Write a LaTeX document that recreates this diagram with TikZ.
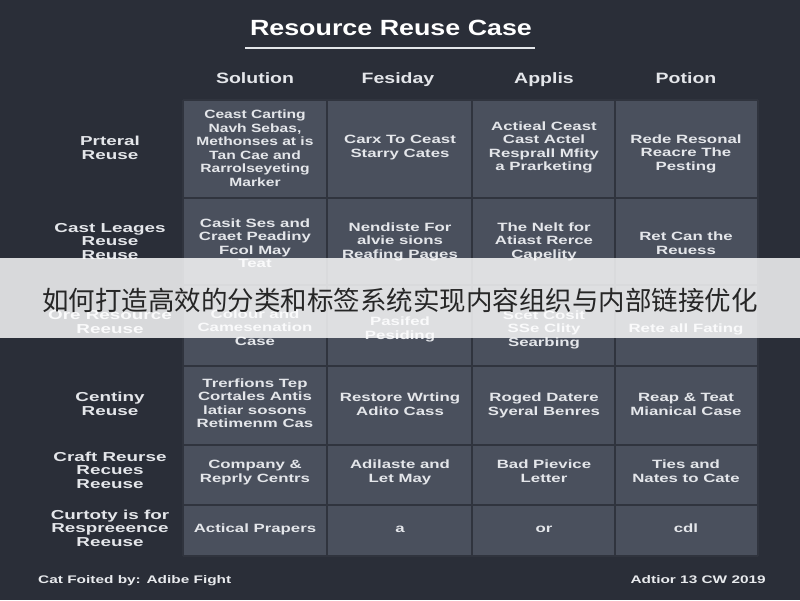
\documentclass[tikz,border=0pt]{standalone}
\usepackage{fontspec}
\setmainfont{Liberation Sans}
\newfontfamily\cjk{Noto Sans CJK SC}
\usetikzlibrary{positioning}
\definecolor{bgdark}{HTML}{2A2E38}
\definecolor{cellgray}{HTML}{4A505D}
\definecolor{gridline}{HTML}{30343E}
\definecolor{txtlight}{HTML}{E4E6EA}
\newcommand\wide[2]{\scalebox{#1}[1]{\begin{tabular}{@{}c@{}}#2\end{tabular}}}
\tikzset{
  celltext/.style={font=\bfseries\fontsize{12}{13.5}\selectfont, text=txtlight, inner sep=0pt},
  rowlabel/.style={font=\bfseries\fontsize{13}{13.5}\selectfont, text=txtlight, inner sep=0pt},
  colhead/.style={font=\bfseries\fontsize{15}{16}\selectfont, text=txtlight, inner sep=0pt},
  foot/.style={font=\bfseries\fontsize{11}{12}\selectfont, text=txtlight!85, inner sep=0pt}
}
\begin{document}
\begin{tikzpicture}[x=1pt,y=-1pt]
\useasboundingbox (0,0) rectangle (800,600);
\fill[bgdark] (0,0) rectangle (800,600);
% title
\node[font=\bfseries\fontsize{22}{24}\selectfont, text=white] (title) at (391,31) {\wide{1.22}{Resource Reuse Case}};
\draw[txtlight, line width=1.5pt] (245,48) -- (535,48);
% column headers
\node[colhead] (h1) at (255,80) {\wide{1.3}{Solution}};
\node[colhead] (h2) at (398,80) {\wide{1.3}{Fesiday}};
\node[colhead] (h3) at (544,80) {\wide{1.3}{Applis}};
\node[colhead] (h4) at (686,80) {\wide{1.3}{Potion}};
% cells
\fill[cellgray] (183,100) rectangle (758,556);
\foreach \x in {183,327,472,615,758}
  \draw[gridline, line width=2.5pt] (\x,100) -- (\x,556);
\foreach \y in {100,198,285,366,445,505,556}
  \draw[gridline, line width=2.5pt] (183,\y) -- (758,\y);
% row labels
\node[rowlabel] (r1) at (110,150) {\wide{1.45}{Prteral\\Reuse}};
\node[rowlabel] (r2) at (110,243) {\wide{1.45}{Cast Leages\\Reuse\\Reuse}};
\node[rowlabel] (r3) at (110,324) {\wide{1.45}{Ore Resource\\Reeuse}};
\node[rowlabel] (r4) at (110,406) {\wide{1.45}{Centiny\\Reuse}};
\node[rowlabel] (r5) at (110,472) {\wide{1.45}{Craft Reurse\\Recues\\Reeuse}};
\node[rowlabel] (r6) at (110,530) {\wide{1.45}{Curtoty is for\\Respreeence\\Reeuse}};
% row 1
\node[celltext] (c11) at (255,150) {\wide{1.3}{Ceast Carting\\Navh Sebas,\\Methonses at is\\Tan Cae and\\Rarrolseyeting\\Marker}};
\node[celltext] (c12) at (400,148) {\wide{1.4}{Carx To Ceast\\Starry Cates}};
\node[celltext] (c13) at (544,148) {\wide{1.4}{Actieal Ceast\\Cast Actel\\Resprall Mfity\\a Prarketing}};
\node[celltext] (c14) at (686,154) {\wide{1.4}{Rede Resonal\\Reacre The\\Pesting}};
% row 2
\node[celltext] (c21) at (255,245) {\wide{1.4}{Casit Ses and\\Craet Peadiny\\Fcol May\\Teat}};
\node[celltext] (c22) at (400,242) {\wide{1.4}{Nendiste For\\alvie sions\\Reafing Pages}};
\node[celltext] (c23) at (544,242) {\wide{1.4}{The Nelt for\\Atiast Rerce\\Capelity}};
\node[celltext] (c24) at (686,245) {\wide{1.4}{Ret Can the\\Reuess}};
% row 3
\node[celltext] (c31) at (255,329) {\wide{1.4}{Colour and\\Camesenation\\Case}};
\node[celltext] (c32) at (400,330) {\wide{1.4}{Pasifed\\Pesiding}};
\node[celltext] (c33) at (544,330) {\wide{1.4}{Scet Cosit\\SSe Clity\\Searbing}};
\node[celltext] (c34) at (686,330) {\wide{1.4}{Rete all Fating}};
% row 4
\node[celltext] (c41) at (255,405) {\wide{1.4}{Trerfions Tep\\Cortales Antis\\latiar sosons\\Retimenm Cas}};
\node[celltext] (c42) at (400,406) {\wide{1.4}{Restore Wrting\\Adito Cass}};
\node[celltext] (c43) at (544,406) {\wide{1.4}{Roged Datere\\Syeral Benres}};
\node[celltext] (c44) at (686,406) {\wide{1.4}{Reap \& Teat\\Mianical Case}};
% row 5
\node[celltext] (c51) at (255,473) {\wide{1.4}{Company \&\\Reprly Centrs}};
\node[celltext] (c52) at (400,473) {\wide{1.4}{Adilaste and\\Let May}};
\node[celltext] (c53) at (544,473) {\wide{1.4}{Bad Pievice\\Letter}};
\node[celltext] (c54) at (686,473) {\wide{1.4}{Ties and\\Nates to Cate}};
% row 6
\node[celltext] (c61) at (255,530) {\wide{1.4}{Actical Prapers}};
\node[celltext] (c62) at (400,530) {\wide{1.4}{a}};
\node[celltext] (c63) at (544,530) {\wide{1.4}{or}};
\node[celltext] (c64) at (686,530) {\wide{1.4}{cdl}};
% footer
\node[foot, anchor=west] (fl) at (38,581) {\wide{1.4}{Cat Foited by: Adibe Fight}};
\node[foot, anchor=east] (fr) at (766,581) {\wide{1.4}{Adtior 13 CW 2019}};
% banner
\fill[white, opacity=0.82] (0,258) rectangle (800,338);
\node[font=\cjk\fontsize{26.5}{28}\selectfont, text=black!85] (banner) at (400,300) {如何打造高效的分类和标签系统实现内容组织与内部链接优化};
\end{tikzpicture}
\end{document}
